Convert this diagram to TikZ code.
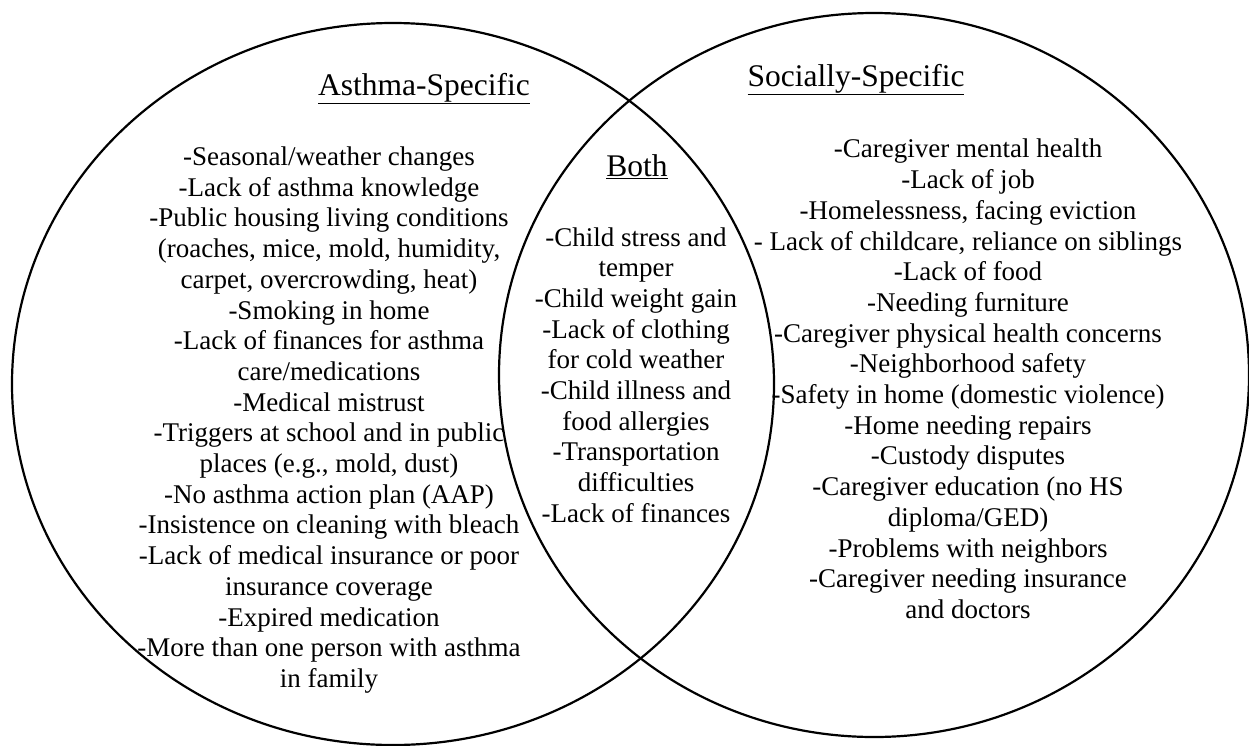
\documentclass[tikz,border=0pt]{standalone}
\usepackage{fontspec}
\setmainfont{Liberation Serif}
\usetikzlibrary{shapes.geometric}

\begin{document}
\begin{tikzpicture}[
  x=1pt, y=-1pt,
  setshape/.style={draw, ellipse, line width=2.2pt, inner sep=0pt},
  settitle/.style={anchor=base, inner sep=0pt, font=\fontsize{31.5}{36}\selectfont},
  items/.style={align=center, inner sep=0pt, font=\fontsize{27}{30.7}\selectfont}
]
\useasboundingbox (0,0) rectangle (1249,745);

% the two sets
\node[setshape, minimum width=762pt, minimum height=722pt] (asthma) at (393,384) {};
\node[setshape, minimum width=750pt, minimum height=724pt] (social) at (874,375) {};

% headings
\node[settitle] (asthmatitle) at (424,95) {\underline{Asthma-Specific}};
\node[settitle] (socialtitle) at (856,86) {\underline{Socially-Specific}};
\node[settitle] (bothtitle) at (637,176) {\underline{Both}};

% lists
\node[items] (asthmalist) at (329,420) {-Seasonal/weather changes\\-Lack of asthma knowledge\\-Public housing living conditions\\(roaches, mice, mold, humidity,\\carpet, overcrowding, heat)\\-Smoking in home\\-Lack of finances for asthma\\care/medications\\-Medical mistrust\\-Triggers at school and in public\\places (e.g., mold, dust)\\-No asthma action plan (AAP)\\-Insistence on cleaning with bleach\\-Lack of medical insurance or poor\\insurance coverage\\-Expired medication\\-More than one person with asthma\\in family};
\node[items] (bothlist) at (636,375) {-Child stress and\\temper\\-Child weight gain\\-Lack of clothing\\for cold weather\\-Child illness and\\food allergies\\-Transportation\\difficulties\\-Lack of finances};
\node[items] (sociallist) at (968,379) {-Caregiver mental health\\-Lack of job\\-Homelessness, facing eviction\\- Lack of childcare, reliance on siblings\\-Lack of food\\-Needing furniture\\-Caregiver physical health concerns\\-Neighborhood safety\\-Safety in home (domestic violence)\\-Home needing repairs\\-Custody disputes\\-Caregiver education (no HS\\diploma/GED)\\-Problems with neighbors\\-Caregiver needing insurance\\and doctors};
\end{tikzpicture}
\end{document}
